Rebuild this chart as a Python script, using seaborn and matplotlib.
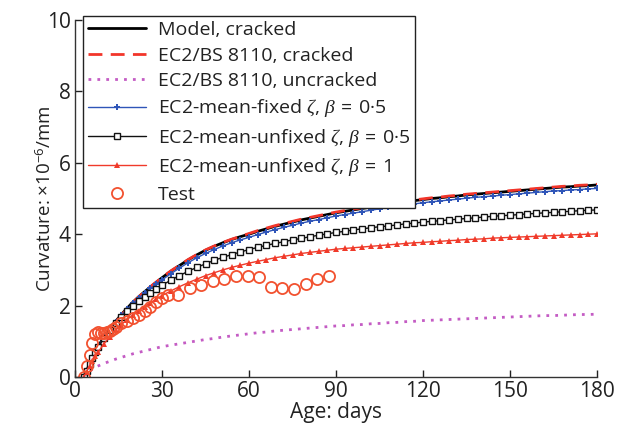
import matplotlib
matplotlib.use("Agg")
import matplotlib.pyplot as plt
import seaborn as sns

# Age in days (shared grid for all the computed curves)
days = [3, 4, 5, 6, 7, 8, 10, 12, 14, 16, 18, 20, 22, 24, 26, 28, 30,
        33, 36, 39, 42, 45, 48, 51, 54, 57, 60, 63, 66, 69, 72, 75, 78, 81, 84, 87,
        90, 93, 96, 99, 102, 105, 108, 111, 114, 117, 120, 123, 126, 129, 132, 135,
        138, 141, 144, 147, 150, 153, 156, 159, 162, 165, 168, 171, 174, 177, 180]

model_cracked = [0.00, 0.18, 0.36, 0.55, 0.72, 0.86, 1.13, 1.36, 1.56, 1.75, 1.93, 2.10, 2.25, 2.39, 2.52, 2.65, 2.78,
                 2.96, 3.12, 3.28, 3.42, 3.55, 3.66, 3.76, 3.85, 3.93, 4.00, 4.08, 4.15, 4.22, 4.28, 4.34, 4.40, 4.45, 4.50, 4.55,
                 4.60, 4.64, 4.68, 4.72, 4.76, 4.80, 4.84, 4.87, 4.91, 4.94, 4.97, 5.00, 5.02, 5.05, 5.07, 5.10,
                 5.12, 5.14, 5.16, 5.18, 5.20, 5.22, 5.24, 5.26, 5.28, 5.30, 5.32, 5.33, 5.35, 5.36, 5.38]

ec2_cracked = [0.00, 0.16, 0.33, 0.52, 0.69, 0.83, 1.10, 1.33, 1.54, 1.73, 1.91, 2.09, 2.25, 2.39, 2.53, 2.66, 2.79,
               2.97, 3.13, 3.29, 3.43, 3.56, 3.67, 3.77, 3.86, 3.94, 4.02, 4.10, 4.17, 4.24, 4.30, 4.36, 4.42, 4.47, 4.52, 4.57,
               4.62, 4.66, 4.70, 4.74, 4.78, 4.82, 4.86, 4.89, 4.93, 4.96, 4.99, 5.02, 5.04, 5.07, 5.09, 5.12,
               5.14, 5.16, 5.18, 5.20, 5.22, 5.24, 5.26, 5.28, 5.30, 5.32, 5.34, 5.35, 5.37, 5.38, 5.40]

ec2_uncracked = [0.00, 0.08, 0.16, 0.22, 0.27, 0.31, 0.38, 0.44, 0.50, 0.55, 0.60, 0.65, 0.69, 0.73, 0.77, 0.81, 0.85,
                 0.89, 0.93, 0.97, 1.01, 1.05, 1.08, 1.12, 1.15, 1.18, 1.21, 1.24, 1.26, 1.29, 1.31, 1.33, 1.35, 1.37, 1.39, 1.41,
                 1.43, 1.44, 1.46, 1.47, 1.49, 1.50, 1.52, 1.53, 1.55, 1.56, 1.58, 1.59, 1.60, 1.61, 1.62, 1.63,
                 1.64, 1.65, 1.66, 1.67, 1.68, 1.69, 1.70, 1.71, 1.72, 1.72, 1.73, 1.74, 1.75, 1.75, 1.76]

mean_fixed_05 = [0.00, 0.18, 0.36, 0.54, 0.71, 0.85, 1.12, 1.35, 1.55, 1.73, 1.90, 2.07, 2.21, 2.35, 2.48, 2.60, 2.72,
                 2.89, 3.05, 3.20, 3.34, 3.46, 3.57, 3.67, 3.76, 3.84, 3.91, 3.99, 4.06, 4.13, 4.19, 4.25, 4.31, 4.36, 4.41, 4.46,
                 4.51, 4.55, 4.59, 4.63, 4.67, 4.71, 4.75, 4.78, 4.82, 4.85, 4.88, 4.91, 4.93, 4.96, 4.98, 5.01,
                 5.03, 5.05, 5.07, 5.09, 5.11, 5.13, 5.15, 5.17, 5.19, 5.21, 5.22, 5.24, 5.25, 5.27, 5.28]

mean_unfixed_05 = [0.00, 0.18, 0.36, 0.54, 0.70, 0.84, 1.10, 1.32, 1.51, 1.68, 1.84, 1.99, 2.12, 2.24, 2.36, 2.47, 2.57,
                   2.71, 2.84, 2.96, 3.07, 3.17, 3.27, 3.35, 3.43, 3.50, 3.57, 3.63, 3.69, 3.74, 3.79, 3.84, 3.88, 3.93, 3.97, 4.01,
                   4.05, 4.08, 4.12, 4.15, 4.18, 4.21, 4.23, 4.26, 4.29, 4.31, 4.34, 4.36, 4.38, 4.40, 4.42, 4.44,
                   4.46, 4.48, 4.50, 4.52, 4.53, 4.55, 4.57, 4.58, 4.60, 4.61, 4.63, 4.64, 4.66, 4.67, 4.68]

mean_unfixed_1 = [0.00, 0.15, 0.30, 0.45, 0.58, 0.70, 0.93, 1.13, 1.31, 1.47, 1.61, 1.74, 1.86, 1.97, 2.08, 2.18, 2.28,
                  2.41, 2.53, 2.64, 2.74, 2.84, 2.92, 3.00, 3.07, 3.13, 3.19, 3.24, 3.29, 3.34, 3.38, 3.42, 3.46, 3.49, 3.52, 3.55,
                  3.58, 3.60, 3.62, 3.64, 3.66, 3.68, 3.70, 3.72, 3.74, 3.76, 3.77, 3.79, 3.80, 3.82, 3.83, 3.85,
                  3.86, 3.87, 3.89, 3.90, 3.91, 3.92, 3.93, 3.94, 3.95, 3.96, 3.97, 3.98, 3.99, 4.00, 4.01]

# Test measurements
test_days = [3, 4, 5, 6, 7, 8, 9, 10, 11, 12, 13, 14, 16, 18, 20, 22, 24, 26, 28, 30, 32,
             35.5, 39.5, 43.5, 47.5, 51.5, 55.5, 59.5, 63.5, 67.5, 71.5, 75.5, 79.5, 83.5, 87.5]
test_vals = [0.00, 0.30, 0.62, 0.95, 1.20, 1.25, 1.22, 1.24, 1.26, 1.30, 1.35, 1.40, 1.50, 1.56, 1.65, 1.75, 1.86, 1.97, 2.10, 2.20, 2.30,
             2.30, 2.49, 2.58, 2.69, 2.74, 2.83, 2.83, 2.80, 2.52, 2.49, 2.46, 2.60, 2.74, 2.83]

sns.set_style("ticks")
plt.rcParams['font.family'] = ['Open Sans', 'DejaVu Sans']
plt.rcParams['mathtext.fontset'] = 'custom'
plt.rcParams['mathtext.rm'] = 'Open Sans'
plt.rcParams['mathtext.it'] = 'Liberation Serif:italic'

fig = plt.figure(figsize=(6.21, 4.30), dpi=100)
ax = fig.add_axes([0.1208, 0.1233, 0.8406, 0.8302])

sns.lineplot(x=days, y=model_cracked, ax=ax, color='black', linewidth=2.0,
             label='Model, cracked')
sns.lineplot(x=days, y=ec2_cracked, ax=ax, color='#f2352a', linewidth=2.0,
             linestyle=(0, (5, 3)), label='EC2/BS 8110, cracked')
sns.lineplot(x=days, y=ec2_uncracked, ax=ax, color='#c45cc4', linewidth=2.0,
             linestyle=(0, (1, 2.2)), label='EC2/BS 8110, uncracked')
sns.lineplot(x=days, y=mean_fixed_05, ax=ax, color='#2f55b8', linewidth=1.0,
             marker='P', markersize=5, markeredgewidth=0,
             label=r'EC2-mean-fixed $\zeta$, $\beta\;=\;$0·5')
sns.lineplot(x=days, y=mean_unfixed_05, ax=ax, color='#111111', linewidth=1.0,
             marker='s', markersize=4.5, markerfacecolor='white', markeredgecolor='#111111',
             markeredgewidth=1.0, label=r'EC2-mean-unfixed $\zeta$, $\beta\;=\;$0·5')
sns.lineplot(x=days, y=mean_unfixed_1, ax=ax, color='#f03a2a', linewidth=1.0,
             marker='^', markersize=4.5, markeredgewidth=0,
             label=r'EC2-mean-unfixed $\zeta$, $\beta\;=\;$1')
ax.plot(test_days, test_vals, linestyle='none', marker='o', markersize=8,
        markerfacecolor='none', markeredgecolor='#f2512f', markeredgewidth=1.3, label='Test')

ax.set_xlim(0, 180)
ax.set_ylim(0, 10)
ax.set_xticks(range(0, 181, 30))
ax.set_yticks(range(0, 11, 2))
ax.tick_params(direction='in', length=5, width=1, labelsize=15, colors='#222222', pad=3)
for side in ['top', 'right']:
    ax.spines[side].set_visible(False)
for side in ['left', 'bottom']:
    ax.spines[side].set_color('#333333')
    ax.spines[side].set_linewidth(1.0)

ax.set_xlabel('Age: days', fontsize=15, color='#222222', labelpad=0)
ax.set_ylabel(r'Curvature: $\times$10$^{-6}$/mm', fontsize=13.5, color='#222222', labelpad=-6)

leg = ax.legend(loc='upper left', bbox_to_anchor=(0.015, 1.01), borderaxespad=0,
                fontsize=14, frameon=True, fancybox=False, handlelength=3.0,
                handletextpad=0.6, labelspacing=0.38, borderpad=0.25)
leg.get_frame().set_edgecolor('#222222')
leg.get_frame().set_linewidth(1.0)
leg.get_frame().set_alpha(1)
for t in leg.get_texts():
    t.set_color('#222222')

fig.savefig('out.png', dpi=100)
